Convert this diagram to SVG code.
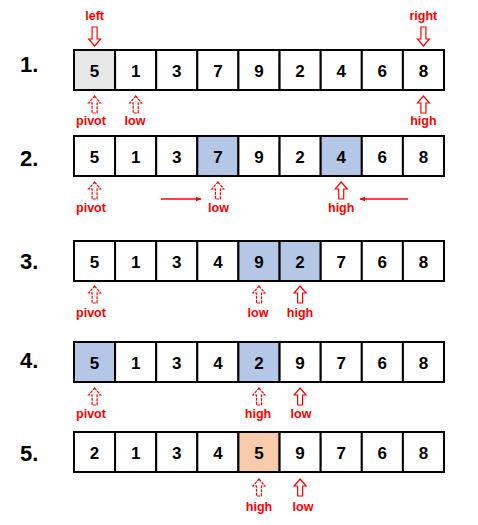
<svg xmlns="http://www.w3.org/2000/svg" xmlns:xlink="http://www.w3.org/1999/xlink" width="478" height="525" viewBox="0 0 478 525">
<style>
.c{fill:#fff;stroke:#000;stroke-width:2}
.g{fill:#e7e7e7}
.b{fill:#b4c7e7}
.p{fill:#f8cbad}
.n{font-family:"Liberation Sans",Arial,sans-serif;font-weight:bold;font-size:17px;text-anchor:middle;fill:#000}
.r{font-family:"Liberation Sans",Arial,sans-serif;font-weight:bold;font-size:22px;fill:#000}
.l{font-family:"Liberation Sans",Arial,sans-serif;font-weight:bold;font-size:12.5px;text-anchor:middle;fill:#ff0000}
.a{fill:#fff;stroke:#ff0000;stroke-width:1.2}
.d{stroke-dasharray:3 1}
.h{stroke:#ff0000;stroke-width:1.3;fill:none}
</style>
<defs>
<path id="up" d="M0,0 L6,7 L2.5,7 L2.5,17 L-2.5,17 L-2.5,7 L-6,7 Z"/>
<path id="dn" d="M0,19 L6,12 L2.5,12 L2.5,0 L-2.5,0 L-2.5,12 L-6,12 Z"/>
<marker id="ah" viewBox="0 0 10 10" refX="9" refY="5" markerWidth="6" markerHeight="6" orient="auto" markerUnits="userSpaceOnUse"><path d="M0,1 L10,5 L0,9 Z" fill="#ff0000"/></marker>
</defs>

<g id="row-labels">
<text class="r" x="20" y="72">1.</text>
<text class="r" x="20" y="166">2.</text>
<text class="r" x="20" y="269">3.</text>
<text class="r" x="20" y="368">4.</text>
<text class="r" x="20" y="461">5.</text>
</g>

<g id="row1">
<g id="r1c1"><rect class="c g" x="74" y="50" width="41.1" height="40"/><text class="n" x="94.6" y="76.5">5</text></g>
<g id="r1c2"><rect class="c" x="115.1" y="50" width="41.1" height="40"/><text class="n" x="135.7" y="76.5">1</text></g>
<g id="r1c3"><rect class="c" x="156.2" y="50" width="41.1" height="40"/><text class="n" x="176.8" y="76.5">3</text></g>
<g id="r1c4"><rect class="c" x="197.3" y="50" width="41.1" height="40"/><text class="n" x="217.9" y="76.5">7</text></g>
<g id="r1c5"><rect class="c" x="238.4" y="50" width="41.1" height="40"/><text class="n" x="259" y="76.5">9</text></g>
<g id="r1c6"><rect class="c" x="279.6" y="50" width="41.1" height="40"/><text class="n" x="300.1" y="76.5">2</text></g>
<g id="r1c7"><rect class="c" x="320.7" y="50" width="41.1" height="40"/><text class="n" x="341.2" y="76.5">4</text></g>
<g id="r1c8"><rect class="c" x="361.8" y="50" width="41.1" height="40"/><text class="n" x="382.3" y="76.5">6</text></g>
<g id="r1c9"><rect class="c" x="402.9" y="50" width="41.1" height="40"/><text class="n" x="423.4" y="76.5">8</text></g>
</g>

<g id="row2">
<g id="r2c1"><rect class="c" x="74" y="136" width="41.1" height="40"/><text class="n" x="94.6" y="162.5">5</text></g>
<g id="r2c2"><rect class="c" x="115.1" y="136" width="41.1" height="40"/><text class="n" x="135.7" y="162.5">1</text></g>
<g id="r2c3"><rect class="c" x="156.2" y="136" width="41.1" height="40"/><text class="n" x="176.8" y="162.5">3</text></g>
<g id="r2c4"><rect class="c b" x="197.3" y="136" width="41.1" height="40"/><text class="n" x="217.9" y="162.5">7</text></g>
<g id="r2c5"><rect class="c" x="238.4" y="136" width="41.1" height="40"/><text class="n" x="259" y="162.5">9</text></g>
<g id="r2c6"><rect class="c" x="279.6" y="136" width="41.1" height="40"/><text class="n" x="300.1" y="162.5">2</text></g>
<g id="r2c7"><rect class="c b" x="320.7" y="136" width="41.1" height="40"/><text class="n" x="341.2" y="162.5">4</text></g>
<g id="r2c8"><rect class="c" x="361.8" y="136" width="41.1" height="40"/><text class="n" x="382.3" y="162.5">6</text></g>
<g id="r2c9"><rect class="c" x="402.9" y="136" width="41.1" height="40"/><text class="n" x="423.4" y="162.5">8</text></g>
</g>

<g id="row3">
<g id="r3c1"><rect class="c" x="74" y="241" width="41.1" height="40"/><text class="n" x="94.6" y="267.5">5</text></g>
<g id="r3c2"><rect class="c" x="115.1" y="241" width="41.1" height="40"/><text class="n" x="135.7" y="267.5">1</text></g>
<g id="r3c3"><rect class="c" x="156.2" y="241" width="41.1" height="40"/><text class="n" x="176.8" y="267.5">3</text></g>
<g id="r3c4"><rect class="c" x="197.3" y="241" width="41.1" height="40"/><text class="n" x="217.9" y="267.5">4</text></g>
<g id="r3c5"><rect class="c b" x="238.4" y="241" width="41.1" height="40"/><text class="n" x="259" y="267.5">9</text></g>
<g id="r3c6"><rect class="c b" x="279.6" y="241" width="41.1" height="40"/><text class="n" x="300.1" y="267.5">2</text></g>
<g id="r3c7"><rect class="c" x="320.7" y="241" width="41.1" height="40"/><text class="n" x="341.2" y="267.5">7</text></g>
<g id="r3c8"><rect class="c" x="361.8" y="241" width="41.1" height="40"/><text class="n" x="382.3" y="267.5">6</text></g>
<g id="r3c9"><rect class="c" x="402.9" y="241" width="41.1" height="40"/><text class="n" x="423.4" y="267.5">8</text></g>
</g>

<g id="row4">
<g id="r4c1"><rect class="c b" x="74" y="342" width="41.1" height="40"/><text class="n" x="94.6" y="368.5">5</text></g>
<g id="r4c2"><rect class="c" x="115.1" y="342" width="41.1" height="40"/><text class="n" x="135.7" y="368.5">1</text></g>
<g id="r4c3"><rect class="c" x="156.2" y="342" width="41.1" height="40"/><text class="n" x="176.8" y="368.5">3</text></g>
<g id="r4c4"><rect class="c" x="197.3" y="342" width="41.1" height="40"/><text class="n" x="217.9" y="368.5">4</text></g>
<g id="r4c5"><rect class="c b" x="238.4" y="342" width="41.1" height="40"/><text class="n" x="259" y="368.5">2</text></g>
<g id="r4c6"><rect class="c" x="279.6" y="342" width="41.1" height="40"/><text class="n" x="300.1" y="368.5">9</text></g>
<g id="r4c7"><rect class="c" x="320.7" y="342" width="41.1" height="40"/><text class="n" x="341.2" y="368.5">7</text></g>
<g id="r4c8"><rect class="c" x="361.8" y="342" width="41.1" height="40"/><text class="n" x="382.3" y="368.5">6</text></g>
<g id="r4c9"><rect class="c" x="402.9" y="342" width="41.1" height="40"/><text class="n" x="423.4" y="368.5">8</text></g>
</g>

<g id="row5">
<g id="r5c1"><rect class="c" x="74" y="432" width="41.1" height="40"/><text class="n" x="94.6" y="458.5">2</text></g>
<g id="r5c2"><rect class="c" x="115.1" y="432" width="41.1" height="40"/><text class="n" x="135.7" y="458.5">1</text></g>
<g id="r5c3"><rect class="c" x="156.2" y="432" width="41.1" height="40"/><text class="n" x="176.8" y="458.5">3</text></g>
<g id="r5c4"><rect class="c" x="197.3" y="432" width="41.1" height="40"/><text class="n" x="217.9" y="458.5">4</text></g>
<g id="r5c5"><rect class="c p" x="238.4" y="432" width="41.1" height="40"/><text class="n" x="259" y="458.5">5</text></g>
<g id="r5c6"><rect class="c" x="279.6" y="432" width="41.1" height="40"/><text class="n" x="300.1" y="458.5">9</text></g>
<g id="r5c7"><rect class="c" x="320.7" y="432" width="41.1" height="40"/><text class="n" x="341.2" y="458.5">7</text></g>
<g id="r5c8"><rect class="c" x="361.8" y="432" width="41.1" height="40"/><text class="n" x="382.3" y="458.5">6</text></g>
<g id="r5c9"><rect class="c" x="402.9" y="432" width="41.1" height="40"/><text class="n" x="423.4" y="458.5">8</text></g>
</g>

<g id="connectors">
<use xlink:href="#dn" href="#dn" class="a" x="94.6" y="27"/>
<use xlink:href="#dn" href="#dn" class="a" x="423.4" y="27"/>
<use xlink:href="#up" href="#up" class="a d" x="94.6" y="96"/>
<use xlink:href="#up" href="#up" class="a d" x="135.7" y="96"/>
<use xlink:href="#up" href="#up" class="a" x="423.4" y="96"/>
<use xlink:href="#up" href="#up" class="a d" x="94.6" y="182"/>
<use xlink:href="#up" href="#up" class="a d" x="217.9" y="182"/>
<use xlink:href="#up" href="#up" class="a" x="341.2" y="182"/>
<line class="h" x1="161" y1="199" x2="201" y2="199" marker-end="url(#ah)"/>
<line class="h" x1="408" y1="199" x2="360" y2="199" marker-end="url(#ah)"/>
<use xlink:href="#up" href="#up" class="a d" x="94.6" y="286"/>
<use xlink:href="#up" href="#up" class="a d" x="259" y="286"/>
<use xlink:href="#up" href="#up" class="a" x="300.1" y="286"/>
<use xlink:href="#up" href="#up" class="a d" x="94.6" y="388"/>
<use xlink:href="#up" href="#up" class="a d" x="259" y="388"/>
<use xlink:href="#up" href="#up" class="a" x="300.1" y="388"/>
<use xlink:href="#up" href="#up" class="a d" x="259" y="479"/>
<use xlink:href="#up" href="#up" class="a" x="300.1" y="479"/>
</g>

<g id="pointer-labels">
<text class="l" x="94.6" y="20">left</text>
<text class="l" x="423.4" y="20">right</text>
<text class="l" x="91" y="125">pivot</text>
<text class="l" x="135" y="125">low</text>
<text class="l" x="423.4" y="125">high</text>
<text class="l" x="91" y="212">pivot</text>
<text class="l" x="218.5" y="212">low</text>
<text class="l" x="341.2" y="212">high</text>
<text class="l" x="91" y="317">pivot</text>
<text class="l" x="258" y="317">low</text>
<text class="l" x="300" y="317">high</text>
<text class="l" x="91" y="418">pivot</text>
<text class="l" x="258" y="418">high</text>
<text class="l" x="301" y="418">low</text>
<text class="l" x="259" y="511">high</text>
<text class="l" x="303" y="511">low</text>
</g>
</svg>
